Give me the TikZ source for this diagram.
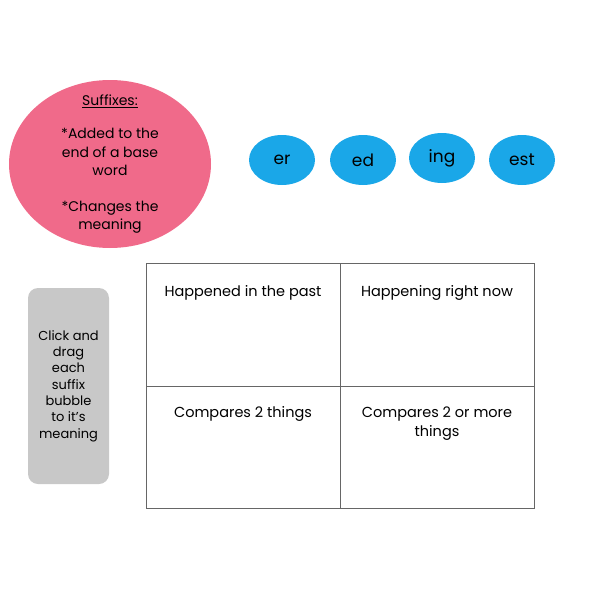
\documentclass[tikz,border=0pt]{standalone}
\usepackage{fontspec}
\usetikzlibrary{shapes.geometric}
\setmainfont{Poppins}
\definecolor{pinkc}{HTML}{F06A8A}
\definecolor{bluec}{HTML}{1AA7E8}
\definecolor{grayc}{HTML}{C8C8C8}
\begin{document}
\begin{tikzpicture}[x=1pt,y=-1pt,
  bub/.style={ellipse,fill=bluec,minimum width=66pt,minimum height=50pt,inner sep=0pt,font=\fontsize{17}{20}\selectfont},
  cell/.style={font=\fontsize{14.5}{19}\selectfont,align=center,anchor=north}]
\useasboundingbox (0,0) rectangle (600,600);
\fill[pinkc] (110,164) ellipse [x radius=101,y radius=84];
\node[align=center,font=\fontsize{14}{18.5}\selectfont] (suf) at (110,164) {\underline{Suffixes:}\\[15pt]*Added to the\\end of a base\\word\\[17pt]*Changes the\\meaning};
\node[bub] (er) at (282,160) {er};
\node[bub] (ed) at (363,160) {ed};
\node[bub] (ing) at (442,158) {ing};
\node[bub] (est) at (522,160) {est};
\draw[black!60,line width=0.8pt] (146,263) rectangle (534,508) (340,263) -- (340,508) (146,386) -- (534,386);
\node[cell] (c1) at (243,282) {Happened in the past};
\node[cell] (c2) at (437,282) {Happening right now};
\node[cell] (c3) at (243,403) {Compares 2 things};
\node[cell] (c4) at (437,403) {Compares 2 or more\\things};
\fill[grayc,rounded corners=10pt] (28,288) rectangle (109,484);
\node[align=center,font=\fontsize{13}{16.3}\selectfont] (inst) at (68.5,386) {Click and\\drag\\each\\suffix\\bubble\\to it's\\meaning};
\end{tikzpicture}
\end{document}
